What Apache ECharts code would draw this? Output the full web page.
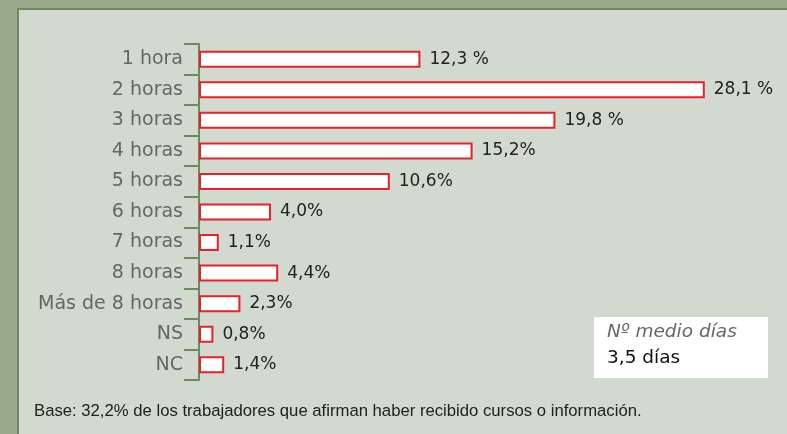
<!DOCTYPE html>
<html>
<head>
<meta charset="utf-8">
<script src="https://cdn.jsdelivr.net/npm/echarts@6/dist/echarts.min.js"></script>
<style>
  html, body { margin: 0; padding: 0; }
  #chart { width: 787px; height: 434px; }
</style>
</head>
<body>
<div id="chart"></div>
<script>
const categories = ['1 hora', '2 horas', '3 horas', '4 horas', '5 horas', '6 horas', '7 horas', '8 horas', 'Más de 8 horas', 'NS', 'NC'];
const values = [12.3, 28.1, 19.8, 15.2, 10.6, 4.0, 1.1, 4.4, 2.3, 0.8, 1.4];
const valueLabels = ['12,3 %', '28,1 %', '19,8 %', '15,2%', '10,6%', '4,0%', '1,1%', '4,4%', '2,3%', '0,8%', '1,4%'];
const boxTitle = 'Nº medio días';
const boxValue = '3,5 días';
const footnote = 'Base: 32,2% de los trabajadores que afirman haber recibido cursos o información.';

const chart = echarts.init(document.getElementById('chart'));

const green = '#6b8a5e';

const option = {
    backgroundColor: '#98a98c',
    animation: false,
    grid: {
        left: 199,
        right: 48,
        top: 44,
        bottom: 54,
    },
    xAxis: {
        type: 'value',
        min: 0,
        max: 30,
        show: false,
    },
    yAxis: {
        type: 'category',
        data: categories,
        inverse: true,
        axisLine: { lineStyle: { color: green, width: 2 } },
        axisTick: { show: true, interval: 0, length: 15, lineStyle: { color: green, width: 2 } },
        axisLabel: {
            interval: 0,
            margin: 16,
            color: '#666666',
            fontSize: 19,
            fontFamily: 'DejaVu Sans',
        },
    },
    series: [
        {
            type: 'bar',
            data: values,
            barWidth: 17,
            itemStyle: {
                color: '#ffffff',
                borderColor: '#e8202a',
                borderWidth: 2,
            },
            label: {
                show: true,
                position: 'right',
                distance: 9,
                color: '#222222',
                fontSize: 17,
                fontFamily: 'DejaVu Sans',
                formatter: (p) => valueLabels[p.dataIndex],
            },
        },
    ],
    graphic: [
        {
            type: 'rect',
            z: -10,
            shape: { x: 18, y: 9, width: 800, height: 440 },
            style: { fill: '#d2d9ce', stroke: green, lineWidth: 2 },
        },
        {
            type: 'rect',
            shape: { x: 594, y: 317, width: 174, height: 61 },
            style: { fill: '#ffffff' },
        },
        {
            type: 'text',
            left: 607,
            top: 323,
            style: {
                text: boxTitle,
                fill: '#666666',
                font: 'italic 18.5px "DejaVu Sans"',
            },
        },
        {
            type: 'text',
            left: 607,
            top: 349,
            style: {
                text: boxValue,
                fill: '#111111',
                font: '18.5px "DejaVu Sans"',
            },
        },
        {
            type: 'text',
            left: 34,
            top: 403,
            style: {
                text: footnote,
                fill: '#222222',
                font: '16.7px "Liberation Sans"',
            },
        },
    ],
};

chart.setOption(option);
</script>
</body>
</html>
